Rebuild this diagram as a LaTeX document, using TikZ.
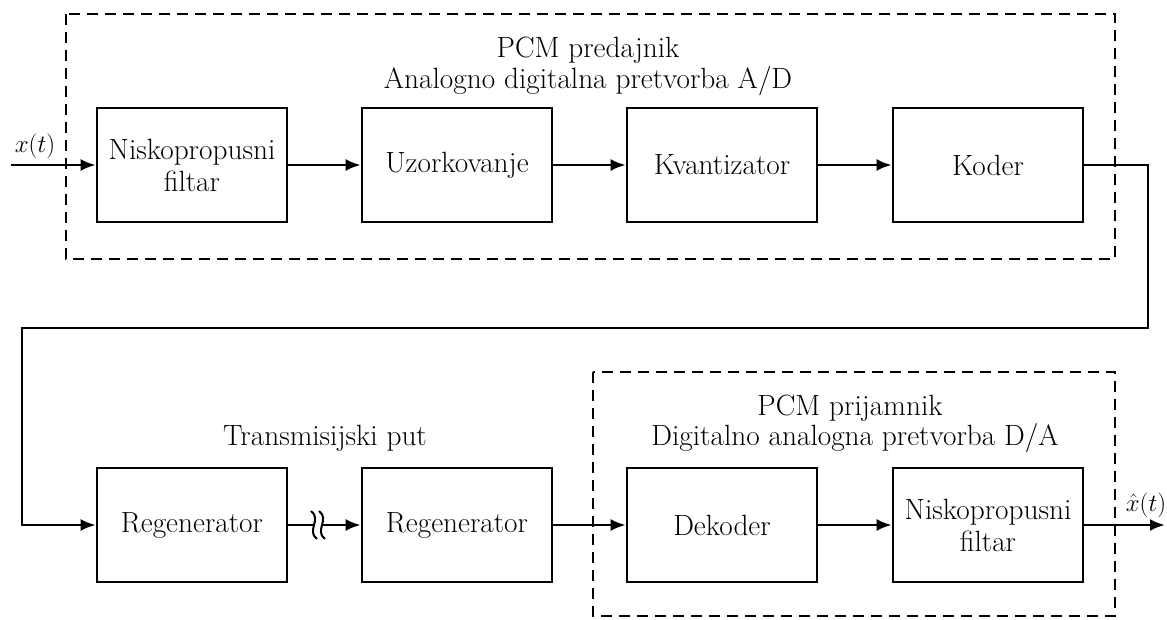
\documentclass[tikz,border=0pt]{standalone}
\usetikzlibrary{arrows.meta}
\begin{document}
\begin{tikzpicture}[x=1pt,y=-1pt,
  every node/.style={font=\fontsize{29.3}{32}\selectfont},
  blk/.style={draw,line width=2.6pt,minimum width=190pt,minimum height=114pt,align=center,inner sep=0pt},
  grp/.style={draw,line width=2.6pt,dash pattern=on 11pt off 7pt},
  wire/.style={line width=2.6pt},
  arr/.style={wire,-{Latex[length=15pt,width=12pt]}},
  lbl/.style={anchor=base,inner sep=0pt}]
\useasboundingbox (0,0) rectangle (1167,619);
% groups
\draw[grp] (66,14) rectangle (1115,259);
\draw[grp] (593,372) rectangle (1115,616);
\node[lbl] (t1) at (588,57) {PCM predajnik};
\node[lbl] (t2) at (588,88) {Analogno digitalna pretvorba A/D};
\node[lbl] (t3) at (850,415) {PCM prijamnik};
\node[lbl] (t4) at (855,445) {Digitalno analogna pretvorba D/A};
\node[lbl] (t5) at (325,445) {Transmisijski put};
% top row
\node[blk] (lp1) at (192,165) {Niskopropusni\\filtar};
\node[blk] (uz) at (457,165) {Uzorkovanje};
\node[blk] (kv) at (722,165) {Kvantizator};
\node[blk] (ko) at (988,165) {Koder};
% bottom row
\node[blk] (rg1) at (192,525) {Regenerator};
\node[blk] (rg2) at (457,525) {Regenerator};
\node[blk] (de) at (722,525) {Dekoder};
\node[blk] (lp2) at (988,525) {Niskopropusni\\filtar};
% input / output
\coordinate (in) at (11,165);
\coordinate (out) at (1165,525);
\node[lbl] (xl) at (35,152) {$x(t)$};
\node[lbl] (xh) at (1146,511) {$\hat{x}(t)$};
\draw[arr] (in) -- (lp1);
\draw[arr] (lp1) -- (uz);
\draw[arr] (uz) -- (kv);
\draw[arr] (kv) -- (ko);
\coordinate (c1) at (1148,165);
\coordinate (c2) at (1148,328);
\coordinate (c3) at (22,328);
\coordinate (c4) at (22,525);
\draw[arr] (ko.east) -- (c1) -- (c2) -- (c3) -- (c4) -- (rg1.west);
% break
\coordinate (b1) at (314,525);
\coordinate (b2) at (322,525);
\draw[wire] (rg1.east) -- (b1);
\draw[arr] (b2) -- (rg2.west);
\draw[line width=2pt] ([shift={(-3,-14)}]b1) .. controls ([shift={(8,-6)}]b1) and ([shift={(-8,6)}]b1) .. ([shift={(3,14)}]b1);
\draw[line width=2pt] ([shift={(-3,-14)}]b2) .. controls ([shift={(8,-6)}]b2) and ([shift={(-8,6)}]b2) .. ([shift={(3,14)}]b2);
\draw[arr] (rg2) -- (de);
\draw[arr] (de) -- (lp2);
\draw[arr] (lp2) -- (out);
\end{tikzpicture}
\end{document}
